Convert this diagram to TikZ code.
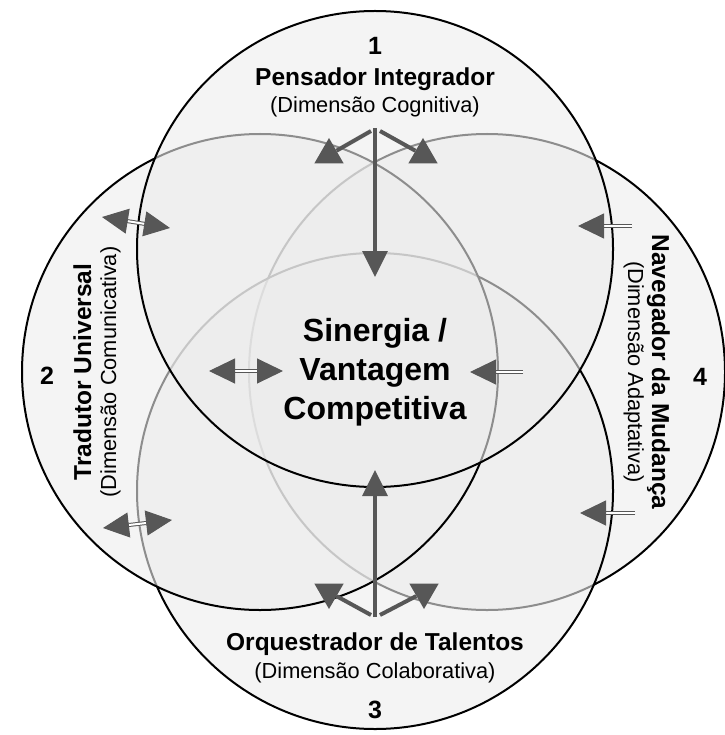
\documentclass[tikz,border=0pt]{standalone}
\usepackage{fontspec}
\setmainfont{Liberation Sans}
\usetikzlibrary{arrows.meta,shapes.geometric}
\definecolor{arrowGray}{HTML}{575757}
\definecolor{ringFill}{gray}{0.925}
\newcommand{\numFont}{\fontsize{25}{30}\selectfont\bfseries}
\newcommand{\titleFont}{\fontsize{24.5}{29}\selectfont\bfseries}
\newcommand{\subFont}{\fontsize{21.8}{26}\selectfont}
\newcommand{\coreFont}{\fontsize{32}{39}\selectfont\bfseries}
\tikzset{
  ring/.style={circle, draw=black, line width=2pt, fill=ringFill, fill opacity=0.6, minimum size=476pt, inner sep=0pt},
  shaft/.style={draw=arrowGray, line width=3.3pt},
  slant/.style={draw=arrowGray, line width=4pt},
  headUp/.style={regular polygon, regular polygon sides=3, fill=arrowGray, inner sep=0pt, minimum size=34pt},
  headDown/.style={headUp, shape border rotate=180},
  twin/.style={draw=arrowGray, line width=1pt, double=white, double distance=2pt},
}
\begin{document}
\begin{tikzpicture}[x=1pt, y=-1pt, >={Triangle[length=26pt,width=25pt]}]
\useasboundingbox (0,0) rectangle (724,735);

% the four dimensions
\node[ring] (navegador) at (487,372) {};
\node[ring] (orquestrador) at (375,491) {};
\node[ring] (tradutor) at (260,372) {};
\node[ring] (pensador) at (375,249) {};

% labels
\node[anchor=base, font=\numFont] (num1) at (375,55) {1};
\node[anchor=base, font=\titleFont] (title1) at (375,86) {Pensador Integrador};
\node[anchor=base, font=\subFont] (sub1) at (375,113) {(Dimensão Cognitiva)};

\node[font=\numFont] (num2) at (47,376) {2};
\node[anchor=base, rotate=90, font=\titleFont] (title2) at (91,372) {Tradutor Universal};
\node[anchor=base, rotate=90, font=\subFont] (sub2) at (116,372) {(Dimensão Comunicativa)};

\node[anchor=base, font=\titleFont] (title3) at (375,650) {Orquestrador de Talentos};
\node[anchor=base, font=\subFont] (sub3) at (375,678) {(Dimensão Colaborativa)};
\node[anchor=base, font=\numFont] (num3) at (375,718) {3};

\node[anchor=base, rotate=-90, font=\titleFont] (title4) at (652,372) {Navegador da Mudança};
\node[anchor=base, rotate=-90, font=\subFont] (sub4) at (628,372) {(Dimensão Adaptativa)};
\node[font=\numFont] (num4) at (700,377) {4};

\node[font=\coreFont, align=center] (core) at (375,372) {Sinergia /\\Vantagem\\Competitiva};

% arrows from 1
\coordinate (hubTop) at (375,128);
\coordinate (hubTopL) at (371,131);
\coordinate (hubTopR) at (380,131);
\coordinate (coreTop) at (375,277);
\node[headUp] (tipTopL) at (329,155) {};
\node[headUp] (tipTopR) at (423,155) {};
\draw[shaft, ->] (hubTop) -- (coreTop);
\draw[slant] (hubTopL) -- (tipTopL);
\draw[slant] (hubTopR) -- (tipTopR);

% arrows from 3
\coordinate (hubBot) at (375,617);
\coordinate (hubBotL) at (371,615);
\coordinate (hubBotR) at (380,615);
\coordinate (coreBot) at (375,470);
\node[headDown] (tipBotL) at (329,592) {};
\node[headDown] (tipBotR) at (424,592) {};
\draw[shaft, ->] (hubBot) -- (coreBot);
\draw[slant] (hubBotL) -- (tipBotL);
\draw[slant] (hubBotR) -- (tipBotR);

% arrows of 2
\coordinate (twoUpA) at (102,217);
\coordinate (twoUpB) at (170,228);
\coordinate (twoMidA) at (209,371);
\coordinate (twoMidB) at (283,371);
\coordinate (twoLowA) at (103,528);
\coordinate (twoLowB) at (172,520);
\draw[twin, <->] (twoUpA) -- (twoUpB);
\draw[twin, <->] (twoMidA) -- (twoMidB);
\draw[twin, <->] (twoLowA) -- (twoLowB);

% arrows of 4
\coordinate (fourUpTail) at (632,226);
\coordinate (fourUpTip) at (578,226);
\coordinate (fourMidTail) at (523,372);
\coordinate (fourMidTip) at (470,372);
\coordinate (fourLowTail) at (635,513);
\coordinate (fourLowTip) at (580,513);
\draw[twin, ->] (fourUpTail) -- (fourUpTip);
\draw[twin, ->] (fourMidTail) -- (fourMidTip);
\draw[twin, ->] (fourLowTail) -- (fourLowTip);
\end{tikzpicture}
\end{document}
